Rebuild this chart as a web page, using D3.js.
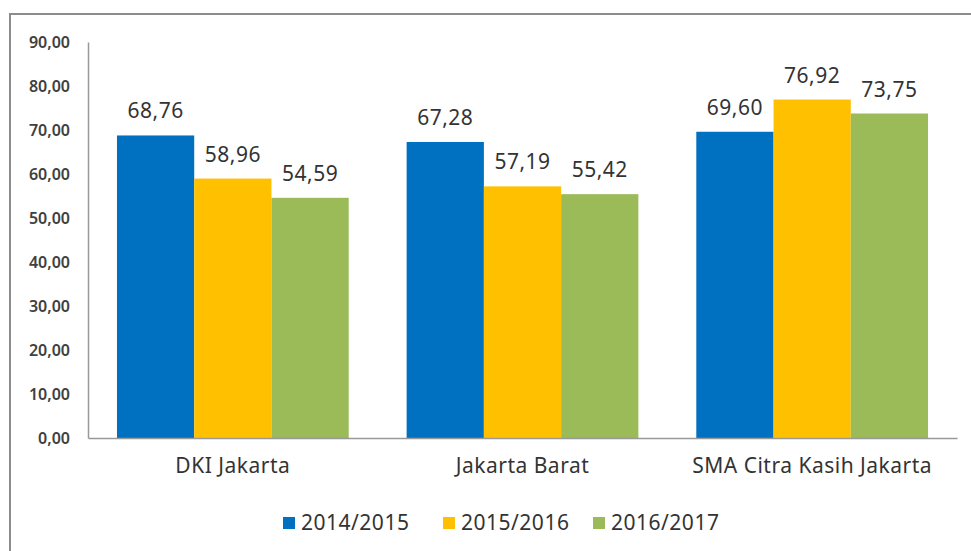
<!DOCTYPE html>
<html>
<head>
<meta charset="utf-8">
<script src="https://cdnjs.cloudflare.com/ajax/libs/d3/7.8.5/d3.min.js"></script>
<style>
  body { margin: 0; background: #fff; }
  svg text { font-family: "Noto Sans", "Open Sans", sans-serif; fill: #333; }
</style>
</head>
<body>
<svg id="chart" width="971" height="551"></svg>
<script>
// data
var categories = ["DKI Jakarta", "Jakarta Barat", "SMA Citra Kasih Jakarta"]
var seriesNames = ["2014/2015", "2015/2016", "2016/2017"]
var seriesColors = ["#0070C0", "#FFC000", "#9BBB59"]
var values2014 = [68.76, 67.28, 69.60]
var values2015 = [58.96, 57.19, 76.92]
var values2016 = [54.59, 55.42, 73.75]
var yTicks = [0, 10, 20, 30, 40, 50, 60, 70, 80, 90]

var allValues = [values2014, values2015, values2016]
var fmt = function(v) { return d3.format(".2f")(v).replace(".", ",") }

var svg = d3.select("#chart")

// frame around the chart (right and bottom are cut off in the picture)
svg.append("path")
    .attr("d", "M10,551 L10,14 L971,14")
    .attr("fill", "none")
    .attr("stroke", "#8c8c8c")
    .attr("stroke-width", 2)

var plotL = 88, plotR = 957, plotT = 42, plotB = 438

var x0 = d3.scaleBand()
    .domain(categories)
    .range([plotL, plotR])
    .paddingInner(0.2)
    .paddingOuter(0.1)

var x1 = d3.scaleBand()
    .domain(seriesNames)
    .range([0, x0.bandwidth()])

var y = d3.scaleLinear()
    .domain([0, 90])
    .range([plotB, plotT])

// y axis
var yAxis = d3.axisLeft(y)
    .tickValues(yTicks)
    .tickSize(0)
    .tickPadding(18)
    .tickFormat(fmt)
var gy = svg.append("g")
    .attr("transform", "translate(" + plotL + ",0)")
    .call(yAxis)
gy.select(".domain").attr("stroke", "#999").attr("stroke-width", 1.5)
gy.selectAll("text")
    .style("font-size", "16px")
    .style("font-weight", "600")
    .style("fill", "#404040")

// bars
var groups = svg.selectAll("g.grp")
    .data(categories)
    .enter()
    .append("g")
    .classed("grp", true)
    .attr("transform", function(d) { return "translate(" + x0(d) + ",0)" })

groups.selectAll("rect")
    .data(function(d, i) {
        return seriesNames.map(function(s, j) { return { s: s, v: allValues[j][i], c: seriesColors[j] } })
    })
    .enter()
    .append("rect")
    .attr("x", function(d) { return x1(d.s) })
    .attr("width", x1.bandwidth())
    .attr("y", function(d) { return y(d.v) })
    .attr("height", function(d) { return y(0) - y(d.v) })
    .attr("fill", function(d) { return d.c })

groups.selectAll("text.val")
    .data(function(d, i) {
        return seriesNames.map(function(s, j) { return { s: s, v: allValues[j][i] } })
    })
    .enter()
    .append("text")
    .classed("val", true)
    .attr("x", function(d) { return x1(d.s) + x1.bandwidth() / 2 })
    .attr("y", function(d) { return y(d.v) - 17 })
    .attr("text-anchor", "middle")
    .style("font-size", "21px")
    .style("letter-spacing", "0.5px")
    .text(function(d) { return fmt(d.v) })

// x axis
var xAxis = d3.axisBottom(x0).tickSize(0).tickPadding(20)
var gx = svg.append("g")
    .attr("transform", "translate(0," + plotB + ")")
    .call(xAxis)
gx.select(".domain").attr("stroke", "#999").attr("stroke-width", 1.5)
gx.selectAll("text")
    .style("font-size", "21px")
    .style("letter-spacing", "0.5px")
    .style("fill", "#333")

// legend
var legendX = [283, 443, 593]
var legend = svg.selectAll("g.leg")
    .data(seriesNames)
    .enter()
    .append("g")
    .classed("leg", true)
    .attr("transform", function(d, i) { return "translate(" + legendX[i] + ",523)" })
legend.append("rect")
    .attr("x", 0).attr("y", -6)
    .attr("width", 12).attr("height", 12)
    .attr("fill", function(d, i) { return seriesColors[i] })
legend.append("text")
    .attr("x", 18)
    .attr("dy", "0.35em")
    .style("font-size", "21px")
    .style("letter-spacing", "0.5px")
    .text(function(d) { return d })
</script>
</body>
</html>
